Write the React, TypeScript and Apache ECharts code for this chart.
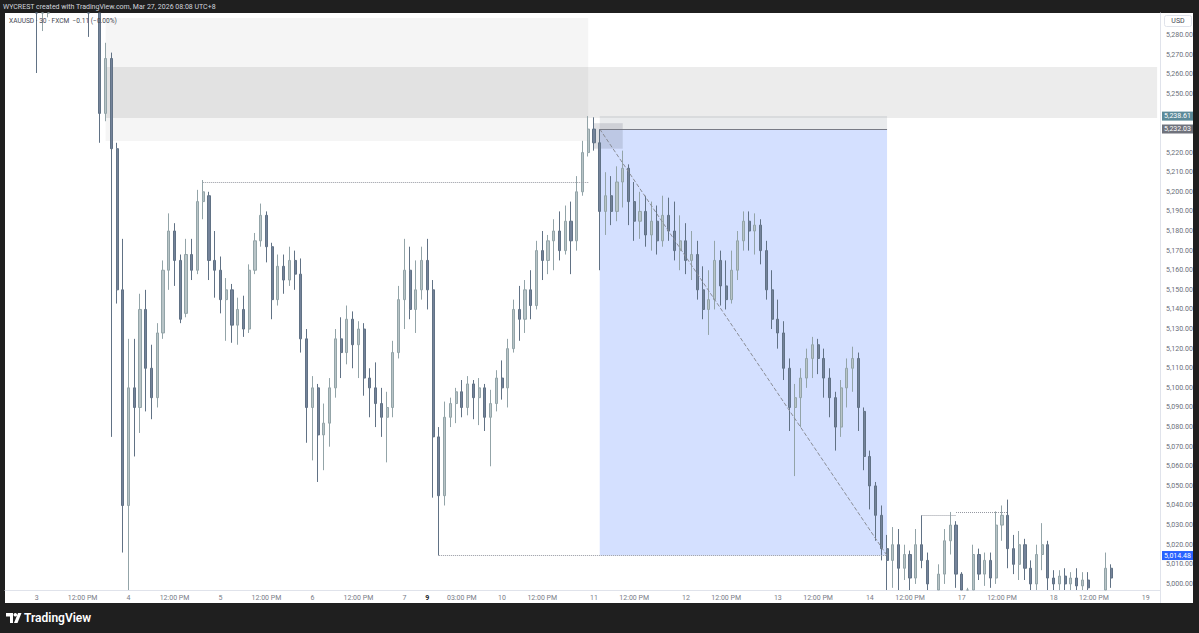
import React, { useEffect, useRef } from "react";
import * as echarts from "echarts";

// ---------- DATA ----------
// Candles as [open, high, low, close] (XAUUSD, aggregated slots)
const candles: [number, number, number, number][] = [
  [5312, 5318, 5298, 5306], [5306, 5316, 5300, 5310], [5310, 5314, 5296, 5303], [5303, 5313, 5297, 5308],
  [5308, 5312, 5294, 5300], [5300, 5310, 5260.6, 5304], [5304, 5309, 5282, 5298], [5298, 5311, 5289, 5305],
  [5305, 5318, 5300, 5312], [5312, 5324, 5305, 5316], [5316, 5322, 5303, 5310], [5310, 5320, 5302, 5314],
  [5314, 5318, 5299, 5308], [5308, 5312, 5295, 5302], [5302, 5308, 5279, 5300], [5300, 5306, 5293, 5296],
  [5296, 5300, 5225, 5240], [5240, 5276, 5236, 5268], [5268, 5271, 5075, 5222], [5222, 5225, 5143, 5150],
  [5150, 5176, 5016, 5040], [5040, 5125, 4990, 5100], [5100, 5125, 5065, 5090], [5090, 5148, 5077, 5140],
  [5140, 5150, 5088, 5110], [5110, 5122, 5084, 5095], [5095, 5133, 5090, 5128], [5128, 5165, 5125, 5160],
  [5160, 5189, 5150, 5180], [5180, 5184, 5152, 5165], [5165, 5168, 5133, 5135], [5138, 5176, 5136, 5168],
  [5168, 5176, 5155, 5160], [5160, 5201, 5158, 5195], [5195, 5206, 5186, 5200], [5198, 5200, 5155, 5165],
  [5165, 5180, 5146, 5160], [5160, 5167, 5138, 5145], [5145, 5156, 5124, 5150], [5150, 5153, 5123, 5132],
  [5132, 5146, 5122, 5140], [5140, 5147, 5126, 5130], [5130, 5163, 5128, 5160], [5160, 5179, 5158, 5175],
  [5175, 5194, 5172, 5188], [5188, 5190, 5164, 5172], [5172, 5174, 5135, 5145], [5145, 5168, 5142, 5162],
  [5162, 5168, 5148, 5155], [5155, 5172, 5152, 5165], [5165, 5170, 5150, 5158], [5158, 5166, 5118, 5125],
  [5125, 5130, 5072, 5090], [5090, 5106, 5063, 5100], [5100, 5102, 5052, 5076], [5076, 5092, 5058, 5082],
  [5082, 5105, 5070, 5100], [5100, 5130, 5095, 5125], [5125, 5136, 5105, 5118], [5118, 5142, 5112, 5135],
  [5135, 5139, 5110, 5122], [5122, 5134, 5105, 5130], [5130, 5133, 5096, 5105], [5105, 5110, 5085, 5100],
  [5100, 5113, 5080, 5092], [5092, 5100, 5075, 5085], [5085, 5098, 5062, 5090], [5090, 5124, 5085, 5118],
  [5118, 5152, 5115, 5145], [5145, 5176, 5130, 5160], [5160, 5172, 5135, 5140], [5140, 5165, 5128, 5150],
  [5150, 5172, 5145, 5165], [5165, 5176, 5140, 5150], [5150, 5155, 5044, 5075], [5075, 5080, 5014.48, 5045],
  [5045, 5093, 5040, 5085], [5085, 5095, 5080, 5092], [5092, 5100, 5082, 5098], [5098, 5104, 5085, 5090],
  [5090, 5106, 5086, 5102], [5102, 5104, 5084, 5095], [5095, 5105, 5081, 5100], [5100, 5102, 5078, 5085],
  [5085, 5099, 5060, 5092], [5092, 5109, 5088, 5105], [5105, 5114, 5094, 5100], [5100, 5125, 5090, 5120],
  [5120, 5145, 5118, 5140], [5140, 5152, 5124, 5135], [5135, 5155, 5128, 5150], [5150, 5160, 5135, 5142],
  [5142, 5175, 5140, 5170], [5170, 5180, 5155, 5165], [5165, 5178, 5158, 5175], [5175, 5186, 5160, 5180],
  [5180, 5190, 5165, 5170], [5170, 5193, 5168, 5185], [5185, 5195, 5158, 5175], [5175, 5208, 5170, 5200],
  [5200, 5226, 5198, 5220], [5220, 5238.61, 5218, 5232], [5232, 5238, 5221, 5225], [5225, 5232, 5160, 5190],
  [5190, 5210, 5178, 5198], [5198, 5208, 5183, 5190], [5190, 5213, 5185, 5205], [5205, 5221, 5192, 5212],
  [5212, 5214, 5183, 5195], [5195, 5205, 5175, 5185], [5185, 5200, 5176, 5190], [5190, 5198, 5172, 5178],
  [5178, 5195, 5170, 5185], [5185, 5193, 5168, 5175], [5175, 5198, 5172, 5188], [5188, 5197, 5175, 5180],
  [5180, 5195, 5165, 5170], [5170, 5188, 5160, 5175], [5175, 5184, 5158, 5165], [5165, 5180, 5155, 5168],
  [5168, 5175, 5145, 5150], [5150, 5162, 5135, 5140], [5140, 5160, 5127, 5145], [5145, 5175, 5140, 5165],
  [5165, 5170, 5142, 5152], [5152, 5165, 5140, 5145], [5145, 5170, 5143, 5160], [5160, 5180, 5155, 5175],
  [5175, 5190, 5170, 5185], [5185, 5190, 5170, 5180], [5180, 5189, 5168, 5183], [5183, 5186, 5163, 5170],
  [5170, 5175, 5145, 5150], [5150, 5160, 5130, 5135], [5135, 5145, 5120, 5128], [5128, 5134, 5104, 5110],
  [5110, 5115, 5078, 5090], [5090, 5102, 5055, 5095], [5095, 5110, 5080, 5105], [5105, 5120, 5100, 5115],
  [5115, 5126, 5105, 5122], [5122, 5125, 5107, 5115], [5115, 5120, 5095, 5105], [5105, 5110, 5085, 5095],
  [5095, 5098, 5068, 5080], [5080, 5104, 5075, 5100], [5100, 5115, 5090, 5110], [5110, 5121, 5098, 5115],
  [5115, 5118, 5078, 5090], [5088, 5090, 5058, 5065], [5065, 5068, 5038, 5050], [5050, 5052, 5022, 5035],
  [5035, 5040, 5012, 5018], [5018, 5025, 4995, 5012], [5012, 5029, 4998, 5020], [5020, 5028, 4995, 5008],
  [5008, 5020, 5002, 5015], [5015, 5017, 4995, 5003], [5003, 5028, 5000, 5020], [5020, 5035, 5008, 5012],
  [5012, 5016, 4994, 5000], [4996, 4996.5, 4986, 4992], [4992, 5010, 4990, 5005], [5005, 5028, 5000, 5022],
  [5022, 5036.7, 5015, 5030], [5030, 5032, 4998, 5005], [5005, 5006, 4990, 4996], [4996, 4998, 4988, 4993],
  [4993, 5020, 4992, 5015], [5015, 5018, 5002, 5005], [5005, 5016, 4999, 5012], [5012, 5016, 4998, 5003],
  [5003, 5037, 5000, 5030], [5030, 5040, 5022, 5035], [5035, 5043, 5008, 5018], [5018, 5025, 5005, 5010],
  [5010, 5027, 5002, 5020], [5020, 5023, 5002, 5008], [5008, 5012, 4994, 5000], [5000, 5020, 4996, 5015],
  [5015, 5031, 5007, 5020], [5020, 5022, 4996, 5003], [5003, 5007, 4995, 5000], [5000, 5007, 4995, 5004],
  [5004, 5008, 4995, 5000], [5000, 5006, 4996, 5003], [5003, 5008, 4995, 4999], [4999, 5006, 4994, 5002],
  [5002, 5006, 4993, 4998], [4996, 4996.5, 4988, 4993], [4993, 4996.5, 4989, 4995], [4995, 5016, 4992, 5008],
  [5008, 5010, 4998, 5003],
];

const slotCount = 201;

// Time-axis labels: [slot index, text]
const timeLabels: [number, string][] = [
  [5, "3"], [13, "12:00 PM"], [21, "4"], [29, "12:00 PM"], [37, "5"], [45, "12:00 PM"],
  [53, "6"], [61, "12:00 PM"], [69, "7"], [73, "9"], [79, "03:00 PM"], [86, "10"],
  [93, "12:00 PM"], [102, "11"], [109, "12:00 PM"], [118, "12"], [125, "12:00 PM"],
  [134, "13"], [141, "12:00 PM"], [150, "14"], [157, "12:00 PM"], [166, "17"],
  [173, "12:00 PM"], [182, "18"], [189, "12:00 PM"], [198, "19"],
];
const boldTimeLabels = ["9"];

// Price-axis tick labels (5,230 and 5,240 sit under the price tags)
const priceTicks = [
  5000, 5010, 5020, 5030, 5040, 5050, 5060, 5070, 5080, 5090, 5100, 5110, 5120, 5130, 5140,
  5150, 5160, 5170, 5180, 5190, 5200, 5210, 5220, 5250, 5260, 5270, 5280,
];
const priceMin = 4996.9;
const priceMax = 5291.2;

// Annotations (slot index, price)
const supplyOuter = { from: 17, to: 101, top: 5288.6, bottom: 5225.9 };
const supplyCore = { from: 17, to: 200, top: 5263.6, bottom: 5237.6 };
const stopPrice = 5238.61;
const entryPrice = 5232.03;
const targetPrice = 5014.48;
const positionSlots = [103, 153];
const entryBox = { from: 102, to: 107, top: 5235, bottom: 5222 };
const prevHighLine = { from: 34, to: 101, price: 5205 };
const prevLowLine = { from: 75, to: 153, price: 5014.48 };
const equalHighLines: [number, number, number][] = [
  [159, 165, 5035.1],
  [165, 174, 5036.7],
];

const priceTags = [
  { price: stopPrice, color: "#5b8a99" },
  { price: entryPrice, color: "#6f727c" },
  { price: targetPrice, color: "#2962ff" },
];

const FONT = "Roboto, 'Noto Sans', sans-serif";
const fmt = (v: number) =>
  v.toLocaleString("en-US", { minimumFractionDigits: 2, maximumFractionDigits: 2 });

export default function App() {
  const ref = useRef<HTMLDivElement>(null);

  useEffect(() => {
    if (!ref.current) return;
    const chart = echarts.init(ref.current, null, { renderer: "svg" });
    const labelMap = new Map<number, string>(timeLabels);
    const slotIds = Array.from({ length: slotCount }, (_, i) => String(i));
    // the pane clips bars at its edges, like the reference
    const clampP = (v: number) => Math.min(priceMax, Math.max(priceMin, v));
    const candleData = candles.map(([o, h, l, c]) =>
      l >= priceMax || h <= priceMin ? "-" : [clampP(o), clampP(c), clampP(l), clampP(h)]
    );

    const dotted = { color: "#9598a1", width: 1, type: "dotted" as const };

    chart.setOption({
      animation: false,
      textStyle: { fontFamily: FONT },
      grid: { left: 5, right: 39, top: 13, bottom: 43, containLabel: false },
      xAxis: {
        type: "category",
        data: slotIds,
        boundaryGap: true,
        axisLine: { show: true, lineStyle: { color: "#e0e3eb" } },
        axisTick: { show: false },
        splitLine: { show: false },
        axisLabel: {
          interval: (i: number) => labelMap.has(i),
          formatter: (_v: string, i: number) => {
            const t = labelMap.get(i) || "";
            return boldTimeLabels.includes(t) ? `{b|${t}}` : t;
          },
          color: "#787b86",
          fontSize: 7,
          margin: 4,
          fontFamily: FONT,
          rich: { b: { fontWeight: "bold", color: "#131722", fontSize: 7, fontFamily: FONT } },
        },
      },
      yAxis: {
        type: "value",
        position: "right",
        min: priceMin,
        max: priceMax,
        scale: true,
        axisLine: { show: true, lineStyle: { color: "#e0e3eb" } },
        axisTick: { show: false },
        splitLine: { show: false },
        axisLabel: {
          customValues: priceTicks,
          formatter: (v: number) => fmt(v),
          color: "#6a6d78",
          fontSize: 7,
          margin: 6,
          fontFamily: FONT,
        },
      },
      series: [
        {
          type: "candlestick",
          data: candleData,
          barWidth: 2.6,
          clip: true,
          z: 2,
          itemStyle: {
            color: "#b8c4c7",
            color0: "#74839a",
            borderColor: "#93a4a8",
            borderColor0: "#617285",
            borderWidth: 1,
          },
        },
        {
          type: "line",
          data: [],
          z: 3,
          silent: true,
          symbol: "none",
          markArea: {
            silent: true,
            label: { show: false },
            data: [
              [
                { coord: [supplyOuter.from, supplyOuter.top], itemStyle: { color: "rgba(0,0,0,0.04)" } },
                { coord: [supplyOuter.to, supplyOuter.bottom] },
              ],
              [
                { coord: [supplyCore.from, supplyCore.top], itemStyle: { color: "rgba(0,0,0,0.075)" } },
                { coord: [supplyCore.to, supplyCore.bottom] },
              ],
              [
                { coord: [positionSlots[0], stopPrice], itemStyle: { color: "rgba(120,130,145,0.16)" } },
                { coord: [positionSlots[1], entryPrice] },
              ],
              [
                { coord: [positionSlots[0], entryPrice], itemStyle: { color: "rgba(41,98,255,0.2)" } },
                { coord: [positionSlots[1], targetPrice] },
              ],
              [
                { coord: [entryBox.from, entryBox.top], itemStyle: { color: "rgba(110,115,130,0.22)" } },
                { coord: [entryBox.to, entryBox.bottom] },
              ],
            ],
          },
          markLine: {
            silent: true,
            symbol: ["none", "none"],
            label: { show: false },
            data: [
              [
                { coord: [prevHighLine.from, prevHighLine.price], lineStyle: dotted },
                { coord: [prevHighLine.to, prevHighLine.price] },
              ],
              [
                { coord: [prevLowLine.from, prevLowLine.price], lineStyle: dotted },
                { coord: [prevLowLine.to, prevLowLine.price] },
              ],
              [
                { coord: [positionSlots[0], entryPrice], lineStyle: { color: "#8a8d96", width: 1, type: "dashed" } },
                { coord: [positionSlots[1], targetPrice] },
              ],
              [
                { coord: [positionSlots[0], entryPrice], lineStyle: { color: "#787b86", width: 1, type: "solid" } },
                { coord: [positionSlots[1], entryPrice] },
              ],
              ...equalHighLines.map(([a, b, p]) => [
                { coord: [a, p], lineStyle: dotted },
                { coord: [b, p] },
              ]),
            ],
          },
        },
      ],
    });

    const tagEls = priceTags.map((t) => {
      const y = chart.convertToPixel({ yAxisIndex: 0 }, t.price) as number;
      return {
        type: "group",
        x: 1162,
        y: y - 4.5,
        z: 20,
        children: [
          { type: "rect", z: 20, shape: { x: 0, y: 0, width: 31, height: 9 }, style: { fill: t.color } },
          {
            type: "text",
            z: 21,
            x: 15.5,
            y: 4.8,
            style: {
              text: fmt(t.price),
              fill: "#ffffff",
              fontSize: 7,
              fontFamily: FONT,
              align: "center",
              verticalAlign: "middle",
            },
          },
        ],
      };
    });

    chart.setOption({
      graphic: [
        {
          type: "text",
          x: 3,
          y: 7,
          z: 20,
          style: {
            text: "WYCREST created with TradingView.com, Mar 27, 2026 08:08 UTC+8",
            fill: "#d1d4dc",
            fontSize: 7,
            fontFamily: FONT,
            verticalAlign: "middle",
          },
        },
        {
          type: "text",
          x: 9,
          y: 20.5,
          z: 20,
          style: {
            text: "XAUUSD · 30 · FXCM  −0.11 (−0.00%)",
            fill: "#434651",
            fontSize: 6.6,
            fontFamily: FONT,
            verticalAlign: "middle",
          },
        },
        {
          type: "rect",
          z: 20,
          shape: { x: 1164.5, y: 15.5, width: 27, height: 11, r: 2 },
          style: { fill: "#ffffff", stroke: "#e0e3eb", lineWidth: 1 },
        },
        {
          type: "text",
          x: 1178,
          y: 21,
          z: 21,
          style: {
            text: "USD",
            fill: "#434651",
            fontSize: 7,
            fontFamily: FONT,
            align: "center",
            verticalAlign: "middle",
          },
        },
        {
          type: "line",
          z: 20,
          shape: { x1: 1160.5, y1: 590, x2: 1160.5, y2: 603 },
          style: { stroke: "#e0e3eb", lineWidth: 1 },
        },
        ...tagEls,
        // TradingView logo
        {
          type: "polygon",
          z: 20,
          shape: { points: [[6, 613], [13, 613], [13, 623], [10, 623], [10, 616.5], [6, 616.5]] },
          style: { fill: "#ffffff" },
        },
        { type: "circle", z: 20, shape: { cx: 15.3, cy: 614.8, r: 1.8 }, style: { fill: "#ffffff" } },
        {
          type: "polygon",
          z: 20,
          shape: { points: [[18, 613], [21.5, 613], [17.5, 623], [14, 623]] },
          style: { fill: "#ffffff" },
        },
        {
          type: "text",
          x: 24,
          y: 618,
          z: 20,
          style: {
            text: "TradingView",
            fill: "#ffffff",
            fontSize: 12,
            fontWeight: 600,
            fontFamily: FONT,
            verticalAlign: "middle",
          },
        },
      ],
    });

    return () => chart.dispose();
  }, []);

  return (
    <div
      style={{
        position: "fixed",
        left: 0,
        top: 0,
        width: 1199,
        height: 633,
        background: "#1f1f1f",
        overflow: "hidden",
      }}
    >
      <div
        style={{
          position: "absolute",
          left: 5,
          top: 13,
          width: 1188,
          height: 590,
          background: "#ffffff",
        }}
      />
      <div ref={ref} style={{ position: "absolute", left: 0, top: 0, width: 1199, height: 633 }} />
    </div>
  );
}
